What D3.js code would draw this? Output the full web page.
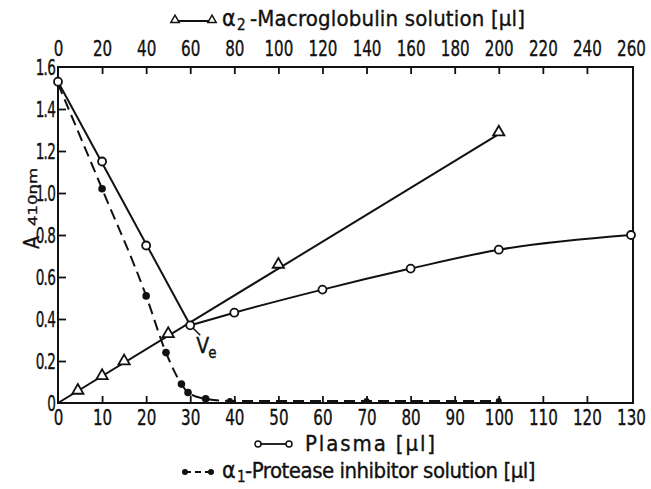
<!DOCTYPE html>
<html>
<head>
<meta charset="utf-8">
<script src="https://cdn.jsdelivr.net/npm/d3@7"></script>
<style>
  html, body { margin: 0; padding: 0; background: #fff; }
  svg { display: block; }
  text { font-family: "DejaVu Sans Condensed", "DejaVu Sans", sans-serif; fill: #111; stroke: #111; stroke-width: 0.35; }
</style>
</head>
<body>
<svg id="chart" width="651" height="489"></svg>
<script>
// ---- data ----
// Plasma, bottom axis [µl]
const plasmaX = [0, 10, 20, 30, 40, 60, 80, 100, 130];
const plasmaY = [1.53, 1.15, 0.75, 0.37, 0.43, 0.54, 0.64, 0.73, 0.80];
// alpha2-Macroglobulin solution, top axis [µl]
const macroX = [0, 9, 20, 30, 50, 100, 200];
const macroY = [0, 0.05, 0.12, 0.19, 0.32, 0.65, 1.28];
// alpha1-Protease inhibitor solution, bottom axis [µl]
const inhibX = [0, 10, 20, 24.5, 28, 29.5, 33.5, 39, 70, 100];
const inhibY = [1.52, 1.02, 0.51, 0.24, 0.09, 0.05, 0.02, 0.01, 0.01, 0.01];
// ticks
const bottomTicks = [0, 10, 20, 30, 40, 50, 60, 70, 80, 90, 100, 110, 120, 130];
const topTicks = [0, 20, 40, 60, 80, 100, 120, 140, 160, 180, 200, 220, 240, 260];
const yTicks = [0, 0.2, 0.4, 0.6, 0.8, 1.0, 1.2, 1.4, 1.6];
const yTickLabels = ["0", "0.2", "0.4", "0.6", "0.8", "1.0", "1.2", "1.4", "1.6"];

const svg = d3.select("#chart");
const L = 58, R = 631, T = 67, B = 403;
const x = d3.scaleLinear([0, 130], [L, R]);
const xTop = d3.scaleLinear([0, 260], [L, R]);
const y = d3.scaleLinear([0, 1.6], [B, T]);

const ink = "#111";
const fs = 21;

// frame
svg.append("rect").attr("x", L).attr("y", T).attr("width", 633 - L).attr("height", B - T)
  .attr("fill", "none").attr("stroke", ink).attr("stroke-width", 2);

// axes
const gB = svg.append("g").attr("transform", `translate(0,${B})`)
  .call(d3.axisBottom(x).tickValues(bottomTicks).tickSizeInner(-7).tickSizeOuter(0).tickPadding(7).tickFormat(d3.format("d")));
const gT = svg.append("g").attr("transform", `translate(0,${T})`)
  .call(d3.axisTop(xTop).tickValues(topTicks).tickSizeInner(-7).tickSizeOuter(0).tickPadding(11).tickFormat(d3.format("d")));
const gL = svg.append("g").attr("transform", `translate(${L},0)`)
  .call(d3.axisLeft(y).tickValues(yTicks).tickSizeInner(-8).tickSizeOuter(0).tickPadding(4).tickFormat((d, i) => yTickLabels[i]));
[gB, gT, gL].forEach(g => {
  g.select(".domain").remove();
  g.selectAll(".tick line").attr("stroke", ink).attr("stroke-width", 1.8);
  g.selectAll(".tick text").attr("font-size", fs).attr("fill", ink);
  g.attr("font-family", null).attr("font-size", null);
});
gB.selectAll(".tick text").attr("transform", "scale(0.8,1)");
gT.selectAll(".tick text").attr("transform", "scale(0.8,1)");
gL.selectAll(".tick text").attr("transform", "scale(0.72,1)").attr("letter-spacing", -1).attr("dy", "0.36em");
// hide tick marks that coincide with the frame
gB.selectAll(".tick").filter(d => d === 0 || d === 130).select("line").remove();
gT.selectAll(".tick").filter(d => d === 0 || d === 260).select("line").remove();
gL.selectAll(".tick").filter(d => d === 0 || d === 1.6).select("line").remove();

// ---- series ----
const plasma = plasmaX.map((v, i) => [x(v), y(plasmaY[i])]);
const macro = macroX.map((v, i) => [xTop(v), y(macroY[i])]);
const inhib = inhibX.map((v, i) => [x(v), y(inhibY[i])]);

// plasma: straight descending limb + smooth rising limb
svg.append("path").attr("d", d3.line()([plasma[0], plasma[3]]))
  .attr("fill", "none").attr("stroke", ink).attr("stroke-width", 2);
svg.append("path").attr("d", d3.line().curve(d3.curveMonotoneX)(plasma.slice(3)))
  .attr("fill", "none").attr("stroke", ink).attr("stroke-width", 2);

// alpha2: straight line from first to last point
svg.append("path").attr("d", d3.line()([macro[0], macro[macro.length - 1]]))
  .attr("fill", "none").attr("stroke", ink).attr("stroke-width", 2);

// alpha1: dashed curve
svg.append("path").attr("d", d3.line().curve(d3.curveMonotoneX)(inhib))
  .attr("fill", "none").attr("stroke", ink).attr("stroke-width", 2).attr("stroke-dasharray", "11,6");

// markers
const tri = d3.symbol().type(d3.symbolTriangle).size(55);
svg.selectAll(".tri").data(macro.slice(1)).join("path")
  .attr("transform", d => `translate(${d[0]},${d[1] - 2})`).attr("d", tri)
  .attr("fill", "#fff").attr("stroke", ink).attr("stroke-width", 1.8);
svg.selectAll(".dot").data(inhib.slice(1)).join("circle")
  .attr("cx", d => d[0]).attr("cy", d => d[1]).attr("r", (d, i) => inhibY[i + 1] <= 0.01 ? 3 : 3.8)
  .attr("fill", ink);
svg.selectAll(".circ").data(plasma).join("circle")
  .attr("cx", d => d[0]).attr("cy", d => d[1]).attr("r", 4)
  .attr("fill", "#fff").attr("stroke", ink).attr("stroke-width", 1.8);

// Ve annotation
const ve = plasma[3];
svg.append("line").attr("x1", ve[0] + 3).attr("y1", ve[1] + 3).attr("x2", ve[0] + 10).attr("y2", ve[1] + 10)
  .attr("stroke", ink).attr("stroke-width", 1.5);
svg.append("text").attr("x", ve[0] + 6).attr("y", ve[1] + 28).attr("font-size", 21).text("V");
svg.append("text").attr("x", ve[0] + 18).attr("y", ve[1] + 33).attr("font-size", 15).text("e");

// y title
svg.append("text").attr("transform", "translate(39,249) rotate(-90)").attr("font-size", 21).text("A");
svg.append("text").attr("transform", "translate(37,226) rotate(-90)").attr("font-size", 13)
  .attr("textLength", 58).attr("lengthAdjust", "spacingAndGlyphs").text("410nm");

// legend-style axis titles
function legendMarkerLine(x1, x2, yy, kind) {
  const l = svg.append("line").attr("x1", x1).attr("x2", x2).attr("y1", yy).attr("y2", yy)
    .attr("stroke", ink).attr("stroke-width", 1.8);
  if (kind === "dot") l.attr("stroke-dasharray", "6,4");
  [x1, x2].forEach(xx => {
    if (kind === "tri") {
      svg.append("path").attr("d", d3.symbol().type(d3.symbolTriangle).size(30)())
        .attr("transform", `translate(${xx},${yy - 1})`).attr("fill", "#fff").attr("stroke", ink).attr("stroke-width", 1.5);
    } else if (kind === "circ") {
      svg.append("circle").attr("cx", xx).attr("cy", yy).attr("r", 3).attr("fill", "#fff").attr("stroke", ink).attr("stroke-width", 1.5);
    } else {
      svg.append("circle").attr("cx", xx).attr("cy", yy).attr("r", 3).attr("fill", ink);
    }
  });
}
function title(xa, yb, greekSub, rest, restX, restEnd) {
  if (greekSub !== null) {
    svg.append("text").attr("x", xa).attr("y", yb).attr("font-size", 23).text("α");
    svg.append("text").attr("x", xa + 15).attr("y", yb + 4).attr("font-size", 15).text(greekSub);
  }
  const t = svg.append("text").attr("x", restX).attr("y", yb).attr("font-size", 22).text(rest);
  const natural = t.node().getComputedTextLength();
  const n = rest.length;
  t.attr("letter-spacing", ((restEnd - restX) - natural) / Math.max(1, n - 1));
}
legendMarkerLine(175, 212, 21, "tri");
title(222, 26, "2", "-Macroglobulin solution [µl]", 250, 525);

legendMarkerLine(258, 289, 444, "circ");
title(0, 451, null, "Plasma  [µl]", 305, 437);

legendMarkerLine(185, 211, 472, "dot");
title(222, 478, "1", "-Protease inhibitor  solution [µl]", 245, 535);
</script>
</body>
</html>
